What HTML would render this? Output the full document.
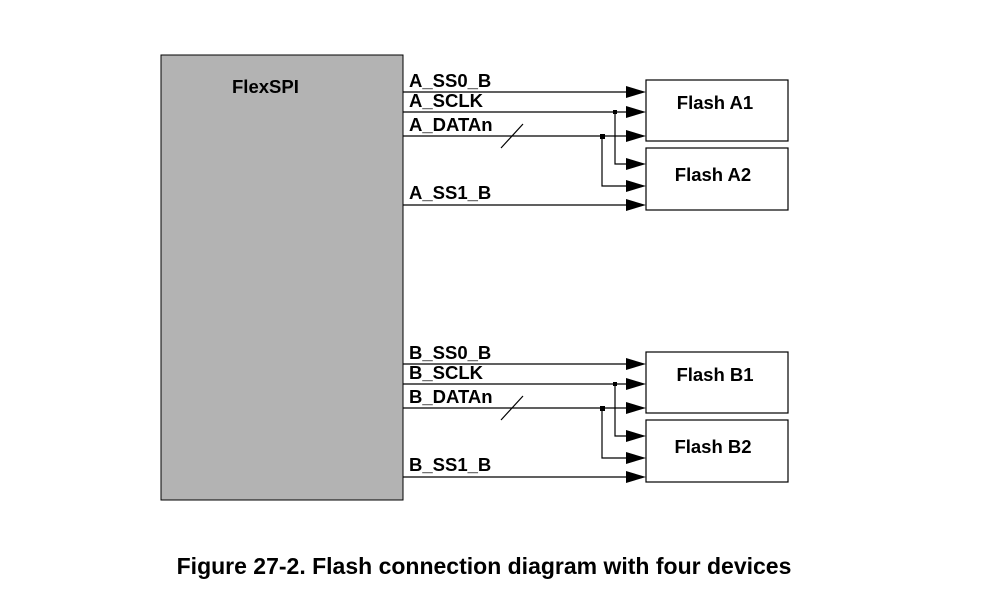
<!DOCTYPE html>
<html><head><style>
body{margin:0;background:#fff;width:999px;height:586px;overflow:hidden}
text{font-family:"Liberation Sans",Arial,sans-serif;font-weight:bold}
</style></head><body>
<svg width="999" height="586" xmlns="http://www.w3.org/2000/svg">
<defs>
<g id="grp">
<line x1="403" y1="92" x2="628" y2="92" stroke="#000" stroke-width="1.2"/>
<line x1="403" y1="112" x2="628" y2="112" stroke="#000" stroke-width="1.2"/>
<line x1="403" y1="136" x2="628" y2="136" stroke="#000" stroke-width="1.2"/>
<line x1="403" y1="205" x2="628" y2="205" stroke="#000" stroke-width="1.2"/>
<polyline points="615,112 615,164 628,164" fill="none" stroke="#000" stroke-width="1.2"/>
<polyline points="602,136 602,186 628,186" fill="none" stroke="#000" stroke-width="1.2"/>
<rect x="613" y="110" width="4" height="4" fill="#000"/>
<rect x="600" y="134" width="5" height="5" fill="#000"/>
<line x1="501" y1="148" x2="523" y2="124" stroke="#000" stroke-width="1.2"/>
<polygon points="626,86 646,92 626,98"/>
<polygon points="626,106 646,112 626,118"/>
<polygon points="626,130 646,136 626,142"/>
<polygon points="626,158 646,164 626,170"/>
<polygon points="626,180 646,186 626,192"/>
<polygon points="626,199 646,205 626,211"/>
<rect x="646" y="80" width="142" height="61" fill="#fff" stroke="#000" stroke-width="1.2"/>
<rect x="646" y="148" width="142" height="62" fill="#fff" stroke="#000" stroke-width="1.2"/>
</g>
</defs>
<rect x="161" y="55" width="242" height="445" fill="#b3b3b3" stroke="#000" stroke-width="1"/>
<text x="232" y="93" font-size="18.5">FlexSPI</text>
<use href="#grp"/>
<use href="#grp" transform="translate(0,272)"/>
<g font-size="18.5">
<text x="409" y="87">A_SS0_B</text>
<text x="409" y="107">A_SCLK</text>
<text x="409" y="131">A_DATAn</text>
<text x="409" y="199">A_SS1_B</text>
<text x="715" y="109" text-anchor="middle">Flash A1</text>
<text x="713" y="181" text-anchor="middle">Flash A2</text>
<text x="409" y="359">B_SS0_B</text>
<text x="409" y="379">B_SCLK</text>
<text x="409" y="403">B_DATAn</text>
<text x="409" y="471">B_SS1_B</text>
<text x="715" y="381" text-anchor="middle">Flash B1</text>
<text x="713" y="453" text-anchor="middle">Flash B2</text>
</g>
<text x="484" y="574" font-size="23" text-anchor="middle">Figure 27-2. Flash connection diagram with four devices</text>
</svg>
</body></html>
